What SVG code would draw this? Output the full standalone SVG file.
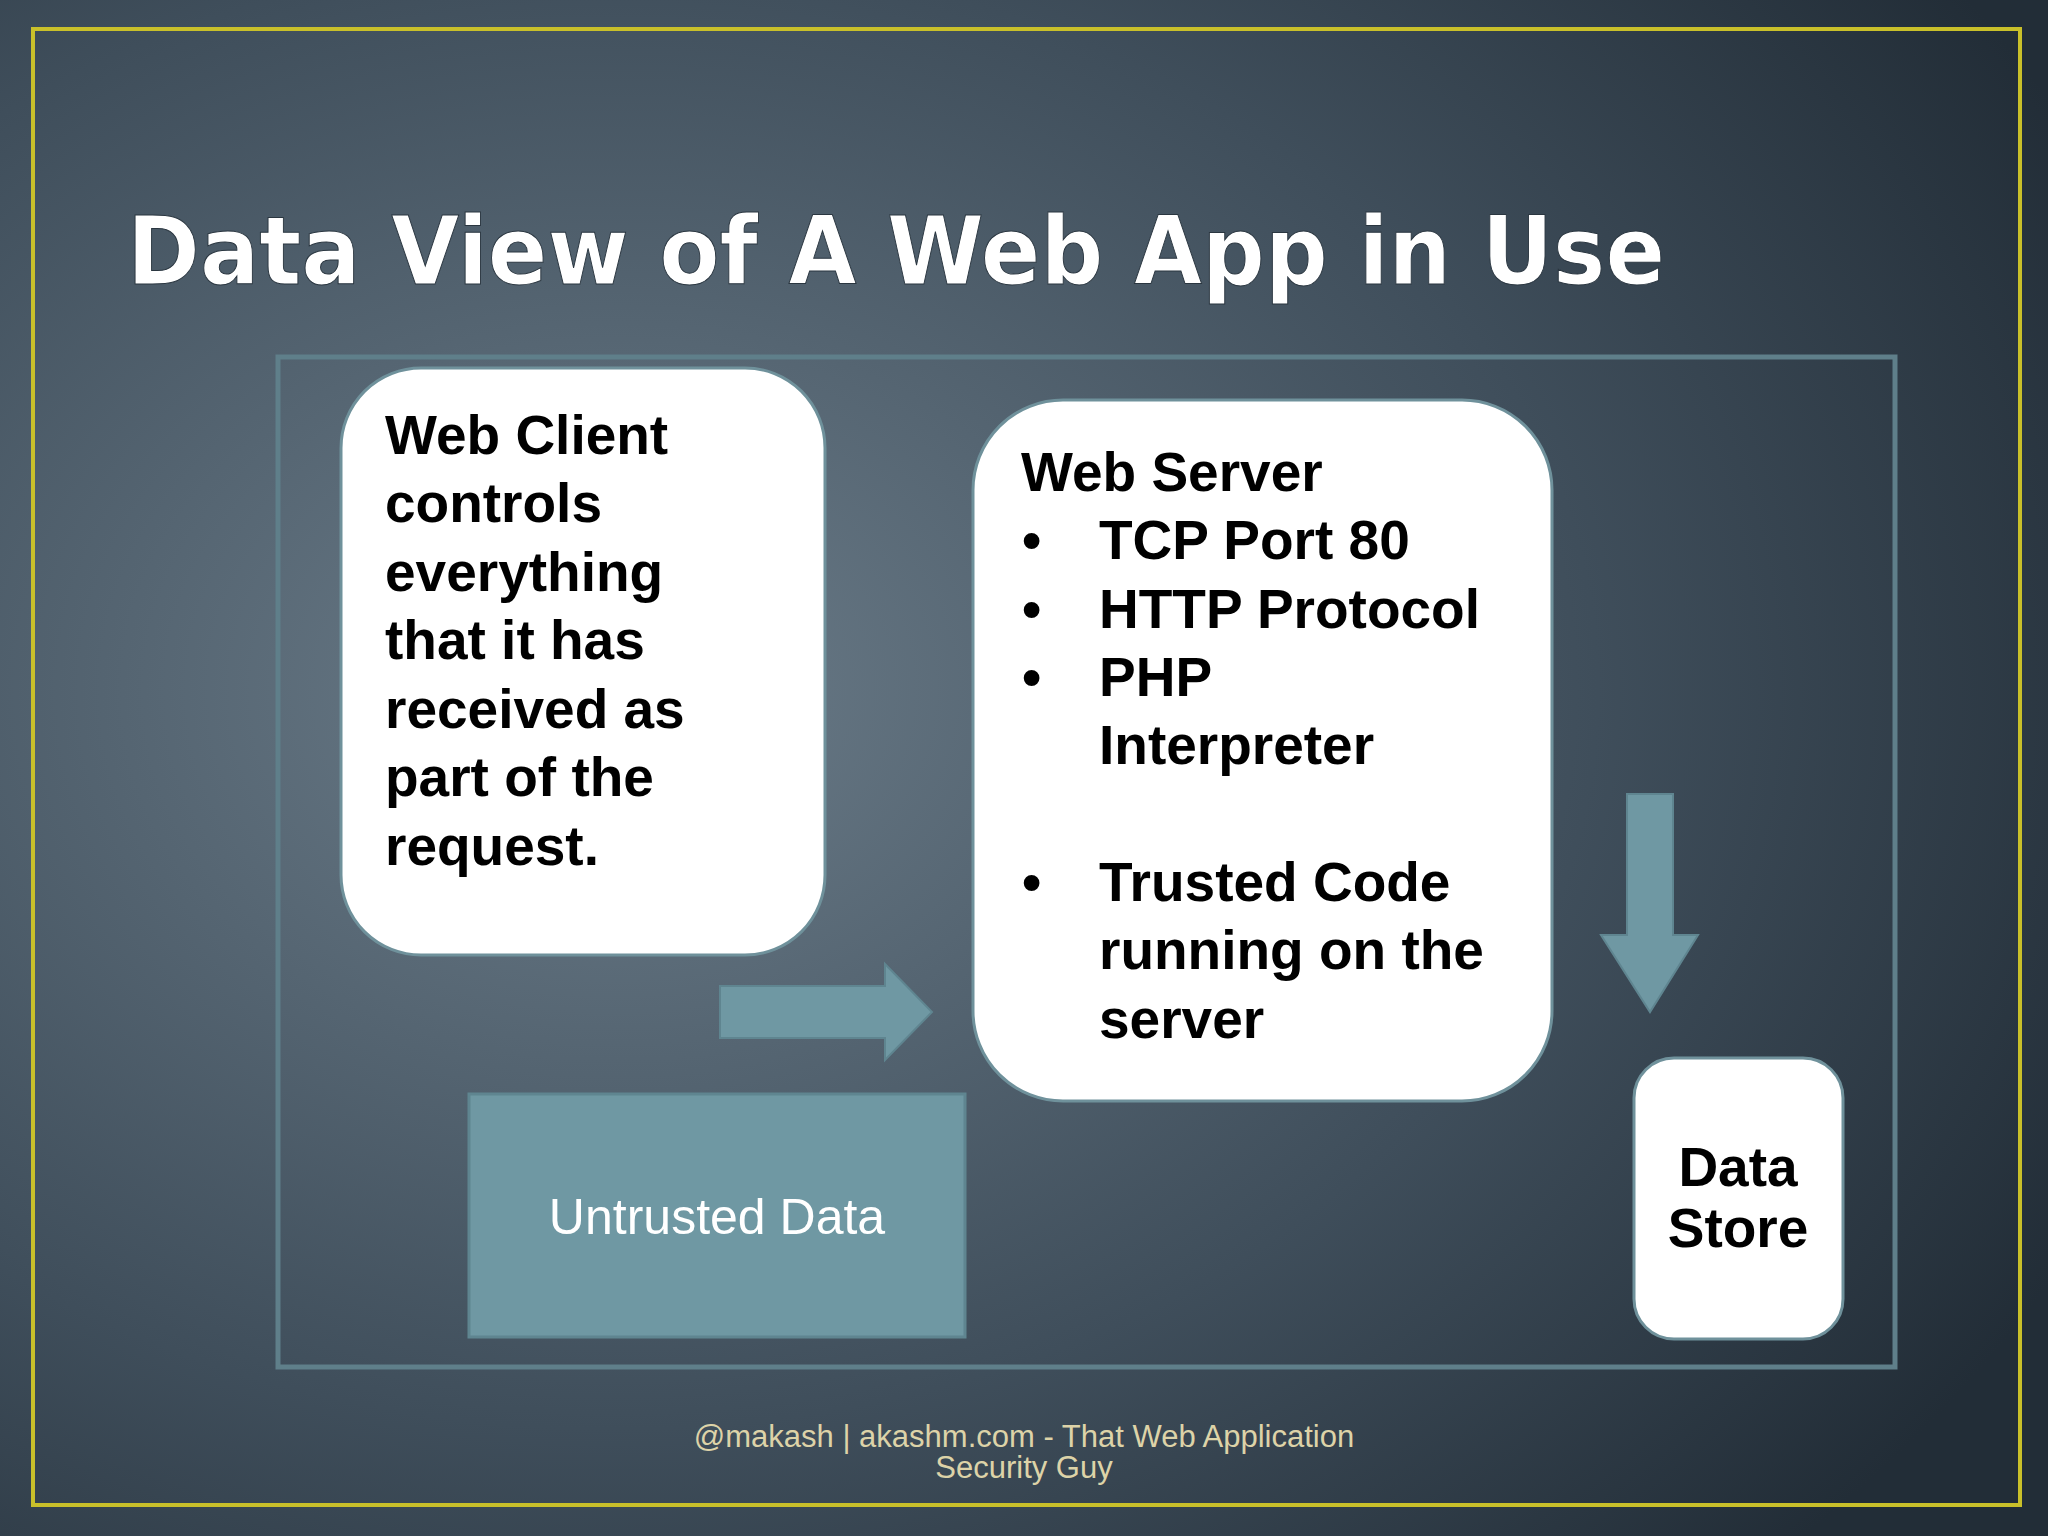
<svg xmlns="http://www.w3.org/2000/svg" width="2048" height="1536" viewBox="0 0 2048 1536">
<defs>
<radialGradient id="bg" cx="0.3" cy="0.45" r="0.8">
<stop offset="0" stop-color="#6b7c89"/>
<stop offset="0.6" stop-color="#3f4e5b"/>
<stop offset="1" stop-color="#222d37"/>
</radialGradient>
<style>
.box{fill:#fff;stroke:#6f919b;stroke-width:3}
.bt{font-family:"Liberation Sans",Arial,sans-serif;font-weight:bold;font-size:55px;fill:#000}
.arr{fill:#6f98a3;stroke:#5f8590;stroke-width:2}
</style>
</defs>
<rect width="2048" height="1536" fill="url(#bg)"/>
<rect x="33" y="29" width="1987" height="1476" fill="none" stroke="#c9c02a" stroke-width="4"/>
<text x="127" y="284" font-family="'DejaVu Sans',Verdana,sans-serif" font-weight="bold" font-size="94" fill="#fff" stroke="#2a3640" stroke-width="1" textLength="1538" lengthAdjust="spacingAndGlyphs">Data View of A Web App in Use</text>
<rect x="278" y="357" width="1617" height="1010" fill="none" stroke="#5f7f8a" stroke-width="5"/>
<g id="connectors">
<polygon class="arr" points="720,986 885,986 885,964 932,1012 885,1060 885,1038 720,1038"/>
<polygon class="arr" points="1627,794 1673,794 1673,935 1698,935 1650,1012 1601,935 1627,935"/>
</g>
<g id="webclient">
<rect class="box" x="341" y="368" width="484" height="587" rx="80"/>
<text class="bt"><tspan x="385" y="454">Web Client</tspan><tspan x="385" y="522">controls</tspan><tspan x="385" y="591">everything</tspan><tspan x="385" y="659">that it has</tspan><tspan x="385" y="728">received as</tspan><tspan x="385" y="796">part of the</tspan><tspan x="385" y="865">request.</tspan></text>
</g>
<g id="webserver">
<rect class="box" x="973" y="400" width="579" height="701" rx="90"/>
<text class="bt"><tspan x="1021" y="491">Web Server</tspan>
<tspan x="1022" y="559">•</tspan><tspan x="1099" y="559">TCP Port 80</tspan>
<tspan x="1022" y="628">•</tspan><tspan x="1099" y="628">HTTP Protocol</tspan>
<tspan x="1022" y="696">•</tspan><tspan x="1099" y="696">PHP</tspan>
<tspan x="1099" y="764">Interpreter</tspan>
<tspan x="1022" y="901">•</tspan><tspan x="1099" y="901">Trusted Code</tspan>
<tspan x="1099" y="969">running on the</tspan>
<tspan x="1099" y="1038">server</tspan></text>
</g>
<g id="untrusted">
<rect x="469" y="1094" width="496" height="243" fill="#6f98a3" stroke="#5f8590" stroke-width="3"/>
<text x="717" y="1234" text-anchor="middle" font-family="'Liberation Sans',Arial,sans-serif" font-size="50" fill="#fff">Untrusted Data</text>
</g>
<g id="datastore">
<rect class="box" x="1634" y="1058" width="209" height="281" rx="40"/>
<text class="bt" text-anchor="middle" font-size="50"><tspan x="1738" y="1186">Data</tspan><tspan x="1738" y="1247">Store</tspan></text>
</g>
<text text-anchor="middle" font-family="'Liberation Sans',Arial,sans-serif" font-size="31" fill="#ddd3a8"><tspan x="1024" y="1447">@makash | akashm.com - That Web Application</tspan><tspan x="1024" y="1478">Security Guy</tspan></text>
</svg>
